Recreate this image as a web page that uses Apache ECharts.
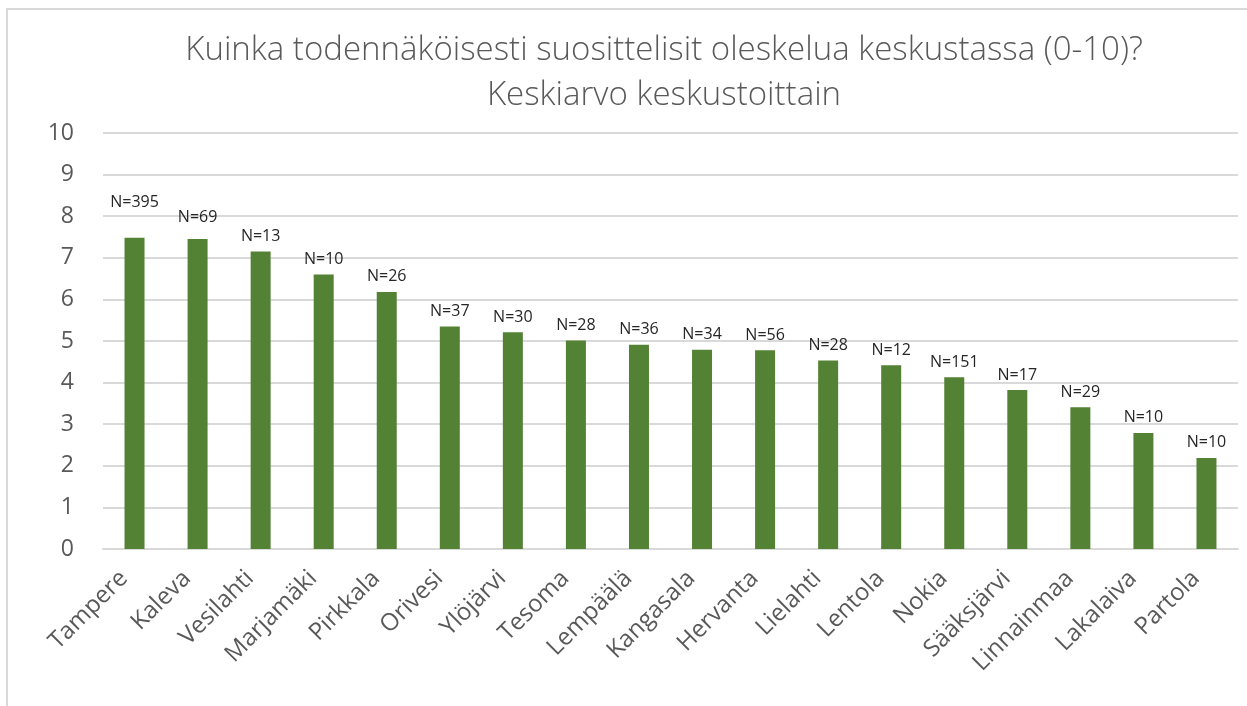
<!DOCTYPE html>
<html>
<head>
<meta charset="utf-8">
<script src="https://cdn.jsdelivr.net/npm/echarts@6/dist/echarts.min.js"></script>
<style>
  html, body { margin: 0; padding: 0; background: #fff; }
  #chart { width: 1247px; height: 706px; }
</style>
</head>
<body>
<div id="chart"></div>
<script>
// keskustat ja keskiarvot
var categories = ["Tampere", "Kaleva", "Vesilahti", "Marjamäki", "Pirkkala", "Orivesi", "Ylöjärvi", "Tesoma", "Lempäälä",
  "Kangasala", "Hervanta", "Lielahti", "Lentola", "Nokia", "Sääksjärvi", "Linnainmaa", "Lakalaiva", "Partola"];
var averages = [7.48, 7.45, 7.15, 6.60, 6.18, 5.35, 5.21, 5.01, 4.91, 4.79, 4.78, 4.53, 4.42, 4.13, 3.82, 3.41, 2.79, 2.19];
var counts = [395, 69, 13, 10, 26, 37, 30, 28, 36, 34, 56, 28, 12, 151, 17, 29, 10, 10];
var yTicks = [0, 1, 2, 3, 4, 5, 6, 7, 8, 9, 10];

var FONT = "'Open Sans', 'Noto Sans', sans-serif";
var chart = echarts.init(document.getElementById("chart"));

chart.setOption({
  animation: false,
  textStyle: { fontFamily: FONT },
  title: {
    text: "Kuinka todennäköisesti suosittelisit oleskelua keskustassa (0-10)?\nKeskiarvo keskustoittain",
    left: 659,
    textAlign: "center",
    top: 23,
    textStyle: {
      fontFamily: FONT,
      fontSize: 33,
      fontWeight: 300,
      color: "#595959",
      lineHeight: 45
    }
  },
  graphic: [
    {
      type: "rect",
      shape: { x: 7, y: 9, width: 1300, height: 760 },
      style: { fill: "none", stroke: "#d9d9d9", lineWidth: 2 },
      silent: true
    }
  ],
  grid: { left: 103, right: 9, top: 133, bottom: 157 },
  xAxis: {
    type: "category",
    data: categories,
    axisTick: { show: false },
    axisLine: { lineStyle: { color: "#d9d9d9", width: 2 } },
    axisLabel: {
      rotate: 45,
      interval: 0,
      margin: 15,
      padding: [0, 15, 0, 0],
      fontSize: 24,
      color: "#595959"
    }
  },
  yAxis: {
    type: "value",
    min: yTicks[0],
    max: yTicks[yTicks.length - 1],
    interval: 1,
    axisLine: { show: false },
    axisTick: { show: false },
    splitLine: { lineStyle: { color: "#d9d9d9", width: 2 } },
    axisLabel: {
      margin: 29,
      fontSize: 23,
      color: "#595959"
    }
  },
  series: [
    {
      type: "bar",
      barWidth: 20,
      itemStyle: { color: "#548235" },
      data: averages.map(function (v, i) {
        // Excelissä kaksi ensimmäistä otsikkoa on nostettu hieman ylemmäs
        if (i === 0) return { value: v, label: { offset: [0, -20] } };
        if (i === 1) return { value: v, label: { offset: [0, -7] } };
        return v;
      }),
      label: {
        show: true,
        position: "top",
        distance: 7,
        fontSize: 16,
        color: "#262626",
        formatter: function (p) {
          return "N=" + counts[p.dataIndex];
        }
      }
    }
  ]
});
</script>
</body>
</html>
